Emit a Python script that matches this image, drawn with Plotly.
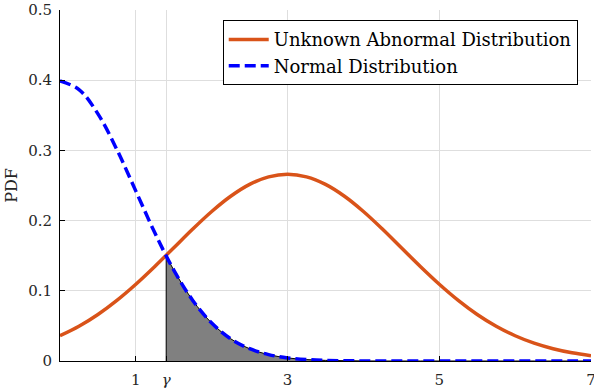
import plotly.graph_objects as go

x_vals = [0.0, 0.25, 0.5, 0.75, 1.0, 1.25, 1.5, 1.75, 2.0, 2.25, 2.5, 2.75, 3.0,
          3.25, 3.5, 3.75, 4.0, 4.25, 4.5, 4.75, 5.0, 5.25, 5.5, 5.75, 6.0,
          6.25, 6.5, 6.75, 7.0]

abnormal_pdf = [0.0360, 0.0495, 0.0663, 0.0864, 0.1094, 0.1347, 0.1613, 0.1880,
                0.2130, 0.2347, 0.2516, 0.2623, 0.2660, 0.2623, 0.2516, 0.2347,
                0.2130, 0.1880, 0.1613, 0.1347, 0.1094, 0.0864, 0.0663, 0.0495,
                0.0360, 0.0254, 0.0175, 0.0117, 0.0076]

normal_pdf = [0.3989, 0.3867, 0.3521, 0.3011, 0.2420, 0.1826, 0.1295, 0.0863,
              0.0540, 0.0317, 0.0175, 0.0091, 0.0044, 0.0020, 0.0009, 0.0004,
              0.0001, 0.0, 0.0, 0.0, 0.0, 0.0, 0.0, 0.0, 0.0, 0.0, 0.0, 0.0, 0.0]

gamma = 1.4
gamma_pdf = 0.150

x_tickvals = [1, gamma, 3, 5, 7]
x_ticktext = ["1", "<i>γ</i>", "3", "5", "7"]
y_tickvals = [0, 0.1, 0.2, 0.3, 0.4, 0.5]
y_ticktext = ["0", "0.1", "0.2", "0.3", "0.4", "0.5"]

FONT = "DejaVu Serif"

# shaded tail region under the normal curve beyond gamma
shade_x = [gamma] + [x for x in x_vals if x > gamma]
shade_y = [gamma_pdf] + [y for x, y in zip(x_vals, normal_pdf) if x > gamma]

fig = go.Figure()
fig.add_trace(go.Scatter(
    x=shade_x, y=shade_y, mode="lines", fill="tozeroy",
    fillcolor="#808080", line=dict(color="black", width=1, shape="spline"),
    showlegend=False, hoverinfo="skip"))
fig.add_trace(go.Scatter(
    x=[gamma, gamma], y=[0, gamma_pdf], mode="lines",
    line=dict(color="black", width=1), showlegend=False, hoverinfo="skip"))
fig.add_trace(go.Scatter(
    x=x_vals, y=abnormal_pdf, mode="lines", name="Unknown Abnormal Distribution",
    line=dict(color="#D95319", width=3.5, shape="spline")))
fig.add_trace(go.Scatter(
    x=x_vals, y=normal_pdf, mode="lines", name="Normal Distribution",
    line=dict(color="#0000FF", width=3.5, dash="11px,5px", shape="spline")))

fig.update_layout(
    width=594, height=390,
    margin=dict(l=60, r=3, t=10, b=29, autoexpand=False),
    plot_bgcolor="white", paper_bgcolor="white",
    font=dict(family=FONT, size=15, color="#262626"),
    legend=dict(x=0.975, y=0.971, xanchor="right", yanchor="top",
                bgcolor="white", bordercolor="black", borderwidth=1,
                font=dict(family=FONT, size=18, color="black"),
                tracegroupgap=0, itemwidth=40),
    xaxis=dict(range=[0, 7], tickvals=x_tickvals, ticktext=x_ticktext,
               showgrid=True, gridcolor="#dedede", gridwidth=1,
               showline=True, linecolor="black", linewidth=1,
               ticks="inside", ticklen=5, tickcolor="black",
               zeroline=False, ticklabeloverflow="allow",
               ticklabelstandoff=5, automargin=False),
    yaxis=dict(range=[0, 0.5], tickvals=y_tickvals, ticktext=y_ticktext,
               showgrid=True, gridcolor="#dedede", gridwidth=1,
               showline=True, linecolor="black", linewidth=1,
               ticks="inside", ticklen=5, tickcolor="black",
               zeroline=False, ticklabelstandoff=4, automargin=False,
               title=dict(text="PDF", standoff=6, font=dict(family=FONT, size=16))),
)

fig.write_html("out.html",
               config={"displayModeBar": False},
               post_script="document.body.style.margin='0';document.body.style.overflow='hidden';")
